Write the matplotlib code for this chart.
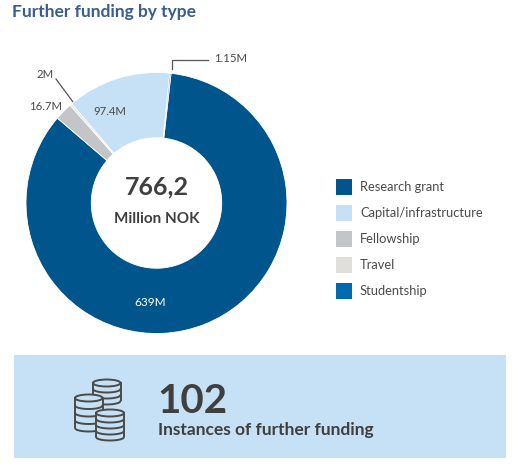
import numpy as np
import matplotlib.pyplot as plt
from matplotlib.patches import Rectangle, Ellipse

plt.rcParams['font.family'] = ['Lato', 'DejaVu Sans']

# data, legend order
categories = ["Research grant", "Capital/infrastructure", "Fellowship", "Travel", "Studentship"]
values = [639, 97.4, 16.7, 2, 1.15]
value_labels = ["639M", "97.4M", "16.7M", "2M", "1.15M"]
colors = ["#00558c", "#c6e0f5", "#c4c5c7", "#e0dfdc", "#0069b0"]
total_text = "766,2"
total_unit = "Million NOK"
instances = "102"
instances_text = "Instances of further funding"

# order the slices are drawn clockwise from the top
draw_order = [0, 2, 3, 1, 4]

W, H = 518, 469
fig = plt.figure(figsize=(W / 100, H / 100), dpi=100)

bg = fig.add_axes([0, 0, 1, 1])
bg.set_xlim(0, W)
bg.set_ylim(H, 0)
bg.axis("off")

dark = "#3f3f3f"
band = "#c6e1f5"
bg.text(12, 12, "Further funding by type", fontsize=12.5, fontweight="bold",
        color="#3a5d8f", va="center", ha="left")

# donut
cx, cy, r = 156.5, 203, 130.5
ax = fig.add_axes([(cx - r) / W, 1 - (cy + r) / H, 2 * r / W, 2 * r / H])
ax.pie([values[i] for i in draw_order], colors=[colors[i] for i in draw_order],
       startangle=83.6, counterclock=False, radius=1,
       wedgeprops=dict(width=0.5, edgecolor="white", linewidth=0.6))
ax.set_xlim(-1, 1)
ax.set_ylim(-1, 1)
ax.set_aspect("equal")
ax.axis("off")

ax.text(0, 0.12, total_text, ha="center", va="center", fontsize=18,
        fontweight="bold", color=dark)
ax.text(0, -0.12, total_unit, ha="center", va="center", fontsize=11,
        fontweight="bold", color=dark)

lab = dict(fontsize=8.2, color="#4a4a4a", va="center")
ax.text(-0.05, -0.76, value_labels[0], ha="center", color="white", fontsize=8.5, va="center")
ax.text(-0.36, 0.70, value_labels[1], ha="center", **lab)
bg.text(62, 107, value_labels[2], ha="right", **lab)
bg.text(54, 74, value_labels[3], ha="right", **lab)
bg.text(214, 59, value_labels[4], ha="left", **lab)
bg.plot([56, 73], [79, 102], color="#555555", lw=0.9)
bg.plot([172, 172, 208], [69, 60, 60], color="#555555", lw=0.9)

# legend
for k, (name, col) in enumerate(zip(categories, colors)):
    y = 187 + 26 * k
    bg.add_patch(Rectangle((336, y - 8), 16, 16, facecolor=col, edgecolor="none"))
    bg.text(360, y, name, fontsize=9.3, color="#4a4a4a", va="center", ha="left")

# bottom band
bg.add_patch(Rectangle((14, 355), 492, 103, facecolor=band, edgecolor="none"))
bg.text(157, 413, instances, fontsize=29, fontweight="bold", color=dark,
        va="baseline", ha="left")
bg.text(158, 435, instances_text, fontsize=12.5, fontweight="bold", color=dark,
        va="baseline", ha="left")


def coin_stack(x0, x1, ytop, ybot, nlines, z):
    ec = "#4a4a4a"
    lw = 1.4
    xm = (x0 + x1) / 2
    a = (x1 - x0) / 2
    b = 3.5
    t = np.linspace(-1, 1, 40)
    xs = xm + a * t
    lower = b * np.sqrt(1 - t ** 2)
    # body fill
    px = np.concatenate([xs, xs[::-1]])
    py = np.concatenate([ytop - lower, (ybot + lower)[::-1]])
    bg.fill(px, py, color=band, zorder=z)
    bg.add_patch(Ellipse((xm, ytop), 2 * a, 2 * b, facecolor="none",
                         edgecolor=ec, lw=lw, zorder=z + 0.1))
    bg.plot([x0, x0], [ytop, ybot - 1], color=ec, lw=lw, zorder=z + 0.1)
    bg.plot([x1, x1], [ytop, ybot - 1], color=ec, lw=lw, zorder=z + 0.1)
    for yy in np.linspace(ytop, ybot, nlines + 1)[1:]:
        bg.plot(xs, yy + lower, color=ec, lw=lw, zorder=z + 0.1,
                solid_capstyle="round")


coin_stack(93, 120.5, 383, 401, 3, 3)
coin_stack(75, 102.5, 398, 428, 4, 4)
coin_stack(96, 124, 413, 437, 4, 5)

fig.savefig("out.png", dpi=100)
